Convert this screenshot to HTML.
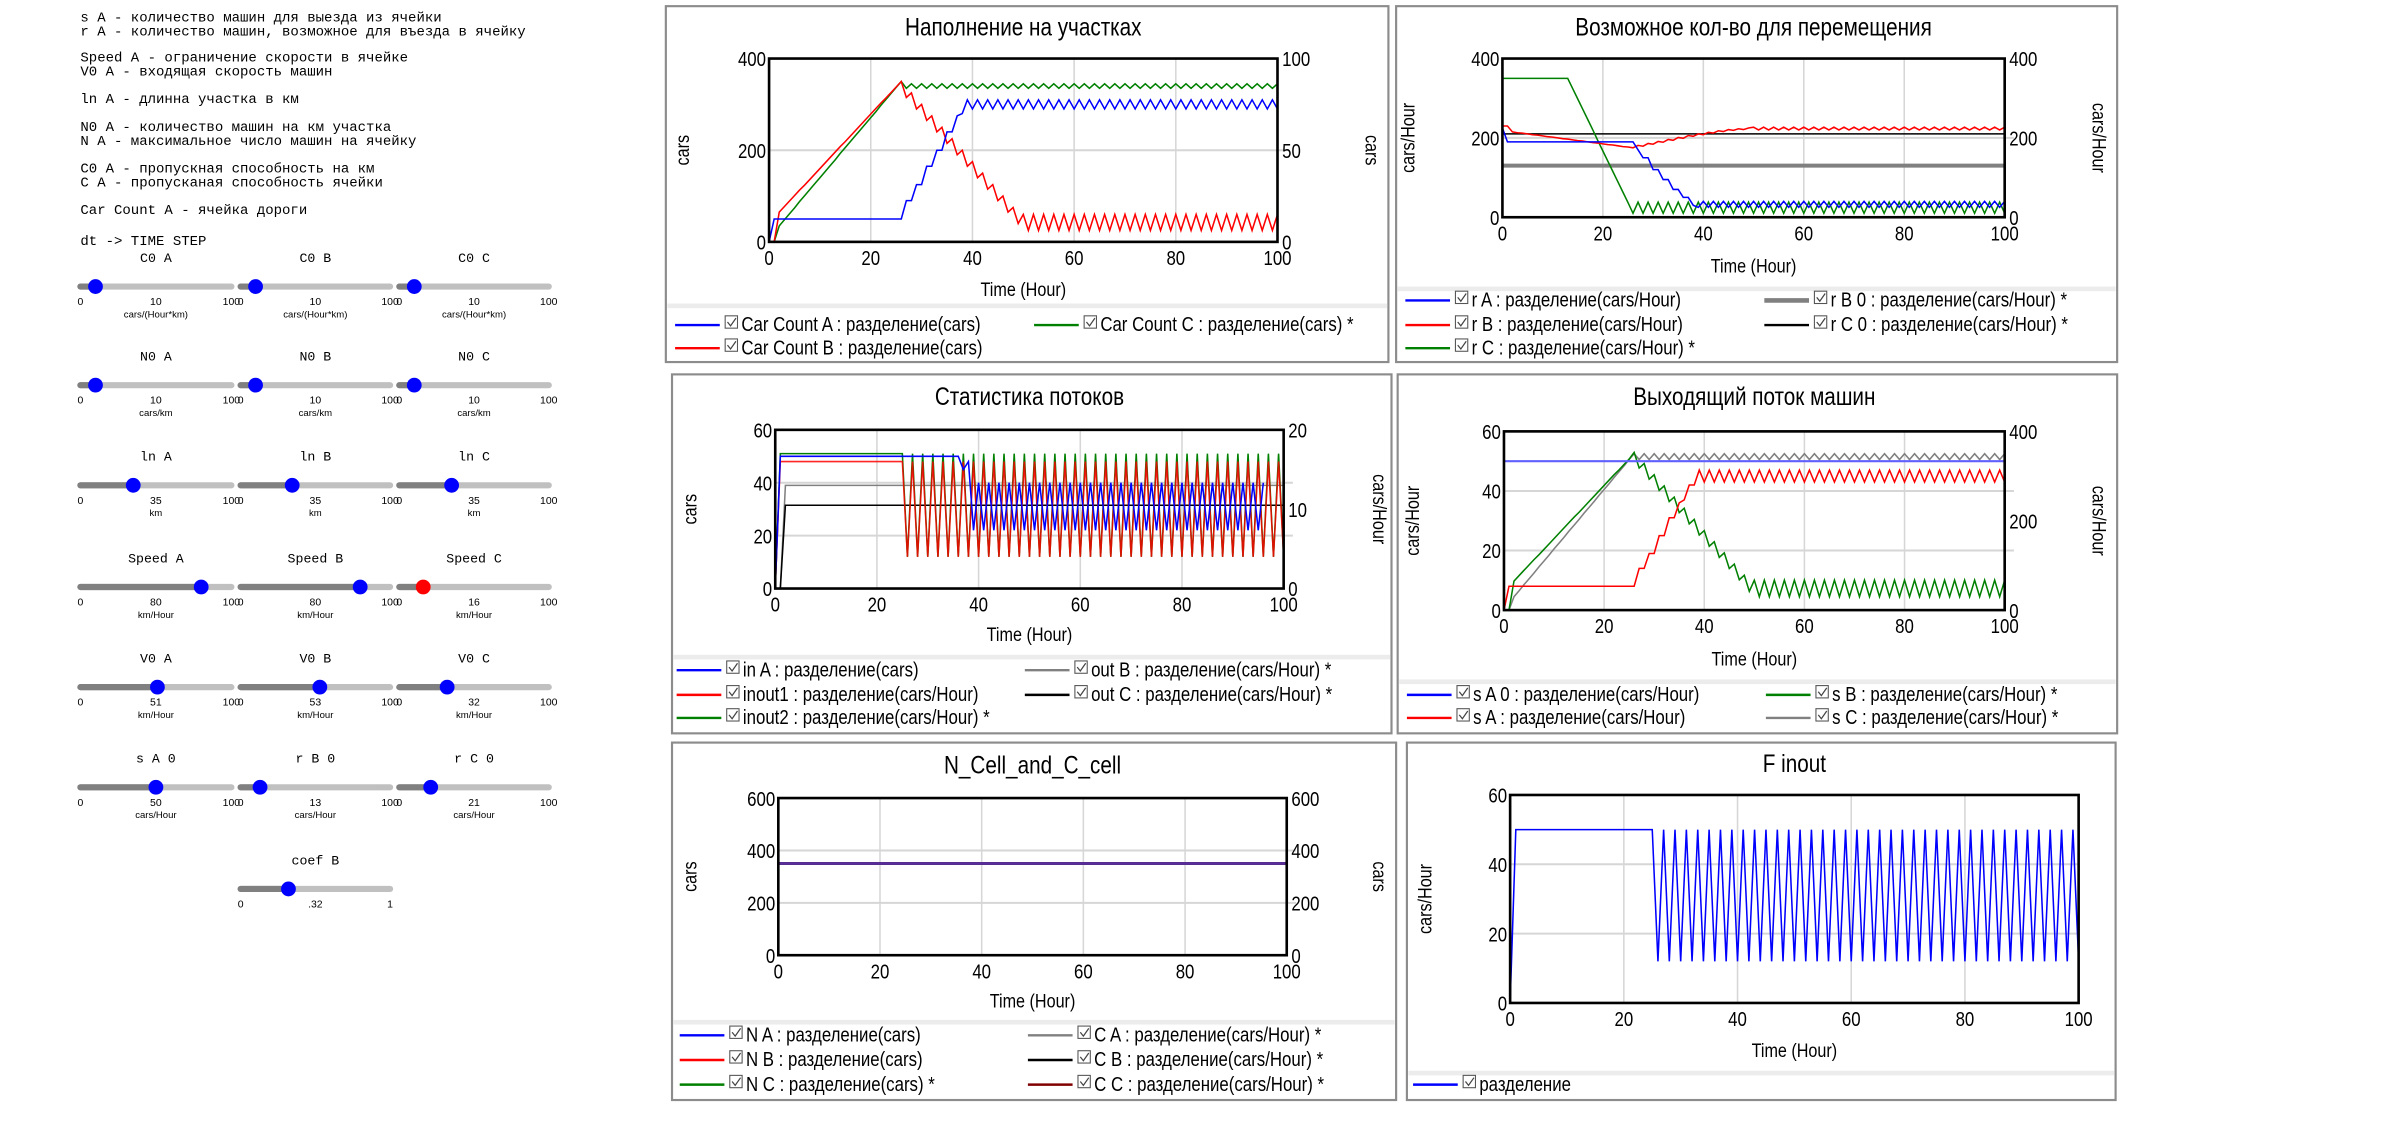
<!DOCTYPE html>
<html><head><meta charset="utf-8">
<style>
html,body{margin:0;padding:0;background:#fff;}
svg{display:block;}
text{font-family:"Liberation Sans",sans-serif;}
.mono{font-family:"Liberation Mono",monospace;}
</style></head>
<body>
<svg id="root" xmlns="http://www.w3.org/2000/svg" width="2404" height="1137" viewBox="0 0 1560 738">
<rect x="0" y="0" width="1560" height="738" fill="#fff"/>
<g class="mono" font-size="9.1" fill="#000">
<text class="mono" x="52" y="14">s A - количество машин для выезда из ячейки</text>
<text class="mono" x="52" y="23">r A - количество машин, возможное для въезда в ячейку</text>
<text class="mono" x="52" y="40">Speed A - ограничение скорости в ячейке</text>
<text class="mono" x="52" y="49">V0 A - входящая скорость машин</text>
<text class="mono" x="52" y="67">ln A - длинна участка в км</text>
<text class="mono" x="52" y="85">N0 A - количество машин на км участка</text>
<text class="mono" x="52" y="94">N A - максимальное число машин на ячейку</text>
<text class="mono" x="52" y="112">C0 A - пропускная способность на км</text>
<text class="mono" x="52" y="121">C A - пропусканая способность ячейки</text>
<text class="mono" x="52" y="139">Car Count A - ячейка дороги</text>
<text class="mono" x="52" y="159">dt -&gt; TIME STEP</text>
</g>
<g id="sliders"></g>
<g id="charts"></g>
</svg>
<script>
// ---------- data ----------
const hours = Array.from({length:101},(_,i)=>i);
const ends = [0,100];

// Chart 1: Наполнение на участках
const carCountA = [0,
50,50,50,50,50,50,50,50,50,50,50,50,50,50,50,50,50,50,50,50,50,50,50,50,50,50,
90,90,125,125,165,165,200,200,240,240,275,280,310,
290,310,290,310,290,310,290,310,290,310,290,310,290,310,290,310,290,310,290,310,
290,310,290,310,290,310,290,310,290,310,290,310,290,310,290,310,290,310,290,310,
290,310,290,310,290,310,290,310,290,310,290,310,290,310,290,310,290,310,290,310,290];
const carCountB = [0,0,65,77,89,101,113,124,136,148,160,172,184,196,208,219,231,243,255,267,279,291,303,314,326,338,350,
315,325,290,300,265,275,240,250,215,225,190,200,165,175,140,150,115,125,90,100,65,75,40,
60,25,60,25,60,25,60,25,60,25,60,25,60,25,60,25,60,25,60,25,60,25,60,25,60,25,
60,25,60,25,60,25,60,25,60,25,60,25,60,25,60,25,60,25,60,25,60,25,60,25,60];
const carCountC = [0,0,35,48,61,74,88,101,114,127,140,153,166,179,193,206,219,232,245,258,271,284,298,311,324,337,350,
335,345,335,345,335,345,335,345,335,345,335,345,335,345,335,345,335,345,335,345,335,345,335,345,335,345,335,345,335,345,335,345,335,345,335,345,335,345,335,345,335,345,
335,345,335,345,335,345,335,345,335,345,335,345,335,345,335,345,335,345,335,345,335,345,335,345,335,345,335,345,335,345,335,345,335,345,335,345,335,345,335,345,335,345];

// Chart 2: Возможное кол-во для перемещения
const rA = [225,
190,190,190,190,190,190,190,190,190,190,190,190,190,190,190,190,190,190,190,190,190,190,190,190,190,190,
170,150,150,120,120,95,95,70,70,50,50,30,25,
40,25,40,25,40,25,40,25,40,25,40,25,40,25,40,25,40,25,40,25,
40,25,40,25,40,25,40,25,40,25,40,25,40,25,40,25,40,25,40,25,
40,25,40,25,40,25,40,25,40,25,40,25,40,25,40,25,40,25,40,25,40];
const rB = [230,230,215,213,212,210,208,207,205,203,202,200,198,197,195,193,192,190,188,187,185,183,182,180,178,177,175,
181,179,186,184,191,189,196,194,201,199,206,204,210,208,214,212,218,216,221,219,223,221,225,
227,220,227,220,227,220,227,220,227,220,227,220,227,220,227,220,227,220,227,220,227,220,227,220,227,220,
227,220,227,220,227,220,227,220,227,220,227,220,227,220,227,220,227,220,227,220,227,220,227,220,227];
const rC = [350,350,350,350,350,350,350,350,350,350,350,350,350,350,
324,298,272,246,220,193,167,141,115,89,63,37,10,
38,10,38,10,38,10,38,10,38,10,38,10,38,10,38,10,38,10,38,10,38,10,38,10,38,10,38,10,38,10,38,10,38,10,38,10,38,10,38,10,38,10,
38,10,38,10,38,10,38,10,38,10,38,10,38,10,38,10,38,10,38,10,38,10,38,10,38,10,38,10,38,10,38,10,38,10,38,10,38,10,38,10,38,10];
const rB0 = [130,130];
const rC0 = [210,210];

// Chart 3: Статистика потоков
const inA = [0,
50,50,50,50,50,50,50,50,50,50,50,50,50,50,50,50,50,50,50,50,50,50,50,50,50,50,50,50,50,50,50,50,50,50,50,50,
45,48,
22,40,22,40,22,40,22,40,22,40,22,40,22,40,22,40,22,40,22,40,22,40,22,40,22,40,22,40,
22,40,22,40,22,40,22,40,22,40,22,40,22,40,22,40,22,40,22,40,22,40,22,40,22,40,22,40,22,40];
const inout1 = [0,
16,16,16,16,16,16,16,16,16,16,16,16,16,16,16,16,16,16,16,16,16,16,16,16,16,
4,16,4,16,4,16,4,16,4,16,4,16,4,16,4,16,4,16,4,16,4,16,4,16,4,16,4,16,4,16,4,16,4,16,4,16,4,16,4,16,4,16,4,16,4,16,4,16,
4,16,4,16,4,16,4,16,4,16,4,16,4,16,4,16,4,16,4,16,4,16,4,16,4,16,4,16,4,16,4,16,4,16,4,16,4,16,4,16,4,16,4,16,4];
const inout2 = [0,
17,17,17,17,17,17,17,17,17,17,17,17,17,17,17,17,17,17,17,17,17,17,17,17,17,
4,17,4,17,4,17,4,17,4,17,4,17,4,17,4,17,4,17,4,17,4,17,4,17,4,17,4,17,4,17,4,17,4,17,4,17,4,17,4,17,4,17,4,17,4,17,4,17,
4,17,4,17,4,17,4,17,4,17,4,17,4,17,4,17,4,17,4,17,4,17,4,17,4,17,4,17,4,17,4,17,4,17,4,17,4,17,4,17,4,17,4,17,4];
const stepHours = [0,1,2,100];
const outB = [0,0,13,13];
const outC = [0,0,10.5,10.5];

// Chart 4: Выходящий поток машин
const sA0 = [50,50];
const sA = [0,
8,8,8,8,8,8,8,8,8,8,8,8,8,8,8,8,8,8,8,8,8,8,8,8,8,8,
14,14,19,19,25,25,31,31,36,37,42,42,47,
43,47,43,47,43,47,43,47,43,47,43,47,43,47,43,47,43,47,43,47,
43,47,43,47,43,47,43,47,43,47,43,47,43,47,43,47,43,47,43,47,
43,47,43,47,43,47,43,47,43,47,43,47,43,47,43,47,43,47,43,47,43];
const sB = [0,0,65,77,89,101,113,124,136,148,160,172,184,196,208,219,231,243,255,267,279,291,303,314,326,338,353,
318,328,293,303,268,278,243,253,218,228,193,203,168,178,143,153,118,128,93,103,68,78,42,
67,30,67,30,67,30,67,30,67,30,67,30,67,30,67,30,67,30,67,30,67,30,67,30,67,30,
67,30,67,30,67,30,67,30,67,30,67,30,67,30,67,30,67,30,67,30,67,30,67,30,67];
const sC = [0,0,30,43,57,70,83,97,110,123,137,150,163,177,190,203,217,230,243,257,270,283,297,310,323,337,350,
337,350,337,350,337,350,337,350,337,350,337,350,337,350,337,350,337,350,337,350,337,350,337,350,337,350,337,350,337,350,337,350,337,350,337,350,337,350,337,350,337,350,
337,350,337,350,337,350,337,350,337,350,337,350,337,350,337,350,337,350,337,350,337,350,337,350,337,350,337,350,337,350,337,350,337,350,337,350,337,350,337,350,337,350];

// Chart 5: N_Cell_and_C_cell
const nA = [350,350], nB = [350,350], nC = [350,350];
const cA = [350,350], cB = [350,350], cC = [350,350];

// Chart 6: F inout
const fInout = [0,
50,50,50,50,50,50,50,50,50,50,50,50,50,50,50,50,50,50,50,50,50,50,50,50,50,
12,50,12,50,12,50,12,50,12,50,12,50,12,50,12,50,12,50,12,50,12,50,12,50,12,50,12,50,12,50,12,50,12,50,12,50,12,50,12,50,12,50,12,50,12,50,12,50,
12,50,12,50,12,50,12,50,12,50,12,50,12,50,12,50,12,50,12,50,12,50,12,50,12,50,12,50,12,50,12,50,12,50,12,50,12,50,12,50,12,50,12,50,12];

const xTicks = [0,20,40,60,80,100];

// slider values
const sliderNames = ['C0  A','C0  B','C0  C','N0  A','N0  B','N0  C','ln  A','ln  B','ln  C','Speed  A','Speed  B','Speed  C','V0  A','V0  B','V0  C','s  A  0','r  B  0','r  C  0'];
const sliderValues = ['10','10','10','10','10','10','35','35','35','80','80','16','51','53','32','50','13','21'];
const sliderFractions = [0.10,0.10,0.10,0.10,0.10,0.10,0.35,0.345,0.35,0.80,0.80,0.16,0.51,0.53,0.32,0.50,0.13,0.21];
const sliderUnits = ['cars/(Hour*km)','cars/(Hour*km)','cars/(Hour*km)','cars/km','cars/km','cars/km','km','km','km','km/Hour','km/Hour','km/Hour','km/Hour','km/Hour','km/Hour','cars/Hour','cars/Hour','cars/Hour'];

// ---------- helpers ----------
const NS = 'http://www.w3.org/2000/svg';
const SX = 0.84;
function mk(tag, attrs, parent){
  const e = document.createElementNS(NS, tag);
  for (const k in attrs) e.setAttribute(k, attrs[k]);
  if (parent) parent.appendChild(e);
  return e;
}
function txt(parent, x, y, s, size, anchor, extra){
  const t = mk('text', Object.assign({x:x, y:y, 'font-size':size, 'text-anchor':anchor||'start', fill:'#000'}, extra||{}), parent);
  t.textContent = s;
  return t;
}
// condensed text (chart fonts are narrow)
function ntxt(parent, x, y, s, size, anchor, rot){
  const tr = `translate(${x},${y})` + (rot ? ` rotate(${rot})` : '') + ` scale(${SX},1)`;
  const t = mk('text', {x:0, y:0, 'font-size':size, 'text-anchor':anchor||'start', fill:'#000', transform:tr}, parent);
  t.textContent = s;
  return t;
}

// ---------- sliders ----------
const sg = document.getElementById('sliders');
const cols = [[52,150],[156,253],[259,356]];
const rowY = [170,234,299,365,430,495];
function drawSlider(name, val, frac, unit, x0, x1, y, lo, hi, red){
  const g = mk('g', {}, sg);
  
  
  const cx = (x0+x1)/2;
  const lab = txt(g, cx, y, name, 8.6, 'middle', {class:'mono'});
  
  
  const ty = y + 16;
  mk('line', {x1:x0, y1:ty, x2:x1, y2:ty, stroke:'#c0c0c0', 'stroke-width':4, 'stroke-linecap':'round'}, g);
  const kx = x0 + (x1-x0)*frac;
  mk('line', {x1:x0, y1:ty, x2:kx, y2:ty, stroke:'#808080', 'stroke-width':4, 'stroke-linecap':'round'}, g);
  const knob = mk('circle', {cx:kx, cy:ty, r:4.8, fill: red ? '#ff0000' : '#0000ff'}, g);
  
  
  txt(g, x0, ty+12, lo, 6.8, 'middle');
  txt(g, x1, ty+12, hi, 6.8, 'middle');
  txt(g, cx, ty+12, val, 6.8, 'middle');
  if (unit) txt(g, cx, ty+20, unit, 6.2, 'middle');
}
for (let i = 0; i < sliderNames.length; i++){
  const c = cols[i%3], r = rowY[Math.floor(i/3)];
  drawSlider(sliderNames[i], sliderValues[i], sliderFractions[i], sliderUnits[i], c[0], c[1], r, '0', '100', i===11);
}
drawSlider('coef  B', '.32', 0.32, '', 156, 253, 561, '0', '1', false);

// ---------- charts ----------
const cg = document.getElementById('charts');
function drawChart(c){
  const g = mk('g', {}, cg);
  
  
  mk('rect', {x:c.box[0], y:c.box[1], width:c.box[2]-c.box[0], height:c.box[3]-c.box[1], fill:'#fff', stroke:'#8c8c8c', 'stroke-width':1.4}, g);
  const t = ntxt(g, (c.plot[0]+c.plot[2])/2, c.titleY, c.title, 16, 'middle');
  
  
  const [L,T,R,B] = c.plot;
  const sx = v => L + (v-0)/(100-0)*(R-L);
  const syL = v => B - (v-c.left[0])/(c.left[1]-c.left[0])*(B-T);
  const syR = c.right ? (v => B - (v-c.right[0])/(c.right[1]-c.right[0])*(B-T)) : syL;
  xTicks.slice(1,-1).forEach(v => mk('line', {x1:sx(v), y1:T, x2:sx(v), y2:B, stroke:'#d6d6d6', 'stroke-width':1}, g));
  c.leftTicks.slice(1,-1).forEach(v => mk('line', {x1:L, y1:syL(v), x2:R+ (c.right?6:0), y2:syL(v), stroke:'#d6d6d6', 'stroke-width':1.3}, g));
  c.series.forEach(s => {
    const sy = s.axis === 'R' ? syR : syL;
    const pts = s.xs.map((x,i) => sx(x).toFixed(2) + ',' + sy(s.ys[i]).toFixed(2)).join(' ');
    const pl = mk('polyline', {points:pts, fill:'none', stroke:s.color, 'stroke-width':s.w||1, 'stroke-linejoin':'miter', opacity:s.op||1}, g);
    
    
  });
  mk('rect', {x:L, y:T, width:R-L, height:B-T, fill:'none', stroke:'#000', 'stroke-width':1.7}, g);
  xTicks.forEach(v => ntxt(g, sx(v), B+15, String(v), 13, 'middle'));
  c.leftTicks.forEach(v => ntxt(g, L-2, syL(v)+5, String(v), 13, 'end'));
  if (c.right) c.rightTicks.forEach(v => ntxt(g, R+3, syR(v)+5, String(v), 13, 'start'));
  const xl = ntxt(g, (L+R)/2, c.xTitleY, 'Time (Hour)', 12.5, 'middle');
  
  
  const yl = ntxt(g, c.leftTitleX, (T+B)/2, c.leftTitle, 12.5, 'middle', -90);
  
  
  if (c.right){
    const yr = ntxt(g, c.rightTitleX, (T+B)/2, c.rightTitle, 12.5, 'middle', 90);
    
    
  }
  mk('rect', {x:c.box[0]+1, y:c.legendSep, width:c.box[2]-c.box[0]-2, height:3, fill:'#ececec'}, g);
  c.legend.forEach(l => {
    const lg = mk('g', {}, g);
    
    
    mk('line', {x1:l.x, y1:l.y-4, x2:l.x+29, y2:l.y-4, stroke:l.color, 'stroke-width':l.w||1.6}, lg);
    mk('rect', {x:l.x+32.5, y:l.y-10, width:8, height:8, fill:'#fff', stroke:'#555', 'stroke-width':0.7}, lg);
    mk('path', {d:`M${l.x+34} ${l.y-6} l2 2.5 l3.5 -5`, fill:'none', stroke:'#444', 'stroke-width':0.8}, lg);
    ntxt(lg, l.x+43, l.y, l.text, 13, 'start');
  });
}

const C = (x,y,text,color,w) => ({x,y,text,color,w});

drawChart({name:'chart-filling', title:'Наполнение на участках', box:[432,4,901,235], plot:[499,38,829,157], titleY:23,
  left:[0,400], right:[0,100], leftTicks:[0,200,400], rightTicks:[0,50,100], xTitleY:192, leftTitle:'cars', leftTitleX:447, rightTitle:'cars', rightTitleX:886,
  legendSep:197,
  series:[
    {id:'car-count-c', xs:hours, ys:carCountC, color:'#008000'},
    {id:'car-count-b', xs:hours, ys:carCountB, color:'#ff0000'},
    {id:'car-count-a', xs:hours, ys:carCountA, color:'#0000ff'}],
  legend:[C(438,215,'Car Count A : разделение(cars)','#0000ff'), C(671,215,'Car Count C : разделение(cars) *','#008000'), C(438,230,'Car Count B : разделение(cars)','#ff0000')]});

drawChart({name:'chart-possible-moves', title:'Возможное кол-во для перемещения', box:[906,4,1374,235], plot:[975,38,1301,141], titleY:23,
  left:[0,400], right:[0,400], leftTicks:[0,200,400], rightTicks:[0,200,400], xTitleY:177, leftTitle:'cars/Hour', leftTitleX:918, rightTitle:'cars/Hour', rightTitleX:1358,
  legendSep:186,
  series:[
    {id:'r-b-0', xs:ends, ys:rB0, color:'#808080', w:2.6, axis:'R'},
    {id:'r-c-0', xs:ends, ys:rC0, color:'#000000', w:1, axis:'R'},
    {id:'r-c', xs:hours, ys:rC, color:'#008000', axis:'R'},
    {id:'r-b', xs:hours, ys:rB, color:'#ff0000'},
    {id:'r-a', xs:hours, ys:rA, color:'#0000ff'}],
  legend:[C(912,199,'r A : разделение(cars/Hour)','#0000ff'), C(1145,199,'r B 0 : разделение(cars/Hour) *','#808080',3),
          C(912,215,'r B : разделение(cars/Hour)','#ff0000'), C(1145,215,'r C 0 : разделение(cars/Hour) *','#000000'),
          C(912,230,'r C : разделение(cars/Hour) *','#008000')]});

drawChart({name:'chart-flow-stats', title:'Статистика потоков', box:[436,243,903,476], plot:[503,279,833,382], titleY:263,
  left:[0,60], right:[0,20], leftTicks:[0,20,40,60], rightTicks:[0,10,20], xTitleY:416, leftTitle:'cars', leftTitleX:452, rightTitle:'cars/Hour', rightTitleX:891,
  legendSep:425,
  series:[
    {id:'out-b', xs:stepHours, ys:outB, color:'#808080', axis:'R'},
    {id:'out-c', xs:stepHours, ys:outC, color:'#000000', axis:'R'},
    {id:'inout2', xs:hours, ys:inout2, color:'#008000', axis:'R'},
    {id:'inout1', xs:hours, ys:inout1, color:'#ff0000', axis:'R', op:0.85},
    {id:'in-a', xs:hours, ys:inA, color:'#0000ff'}],
  legend:[C(439,439,'in A : разделение(cars)','#0000ff'), C(665,439,'out B : разделение(cars/Hour) *','#808080'),
          C(439,455,'inout1 : разделение(cars/Hour)','#ff0000'), C(665,455,'out C : разделение(cars/Hour) *','#000000'),
          C(439,470,'inout2 : разделение(cars/Hour) *','#008000')]});

drawChart({name:'chart-outflow', title:'Выходящий поток машин', box:[907,243,1374,476], plot:[976,280,1301,396], titleY:263,
  left:[0,60], right:[0,400], leftTicks:[0,20,40,60], rightTicks:[0,200,400], xTitleY:432, leftTitle:'cars/Hour', leftTitleX:921, rightTitle:'cars/Hour', rightTitleX:1358,
  legendSep:441,
  series:[
    {id:'s-c', xs:hours, ys:sC, color:'#808080', axis:'R'},
    {id:'s-b', xs:hours, ys:sB, color:'#008000', axis:'R'},
    {id:'s-a', xs:hours, ys:sA, color:'#ff0000'},
    {id:'s-a-0', xs:ends, ys:sA0, color:'#6060ff', w:1.4}],
  legend:[C(913,455,'s A 0 : разделение(cars/Hour)','#0000ff'), C(1146,455,'s B : разделение(cars/Hour) *','#008000'),
          C(913,470,'s A : разделение(cars/Hour)','#ff0000'), C(1146,470,'s C : разделение(cars/Hour) *','#808080')]});

drawChart({name:'chart-n-c-cell', title:'N_Cell_and_C_cell', box:[436,482,906,714], plot:[505,518,835,620], titleY:502,
  left:[0,600], right:[0,600], leftTicks:[0,200,400,600], rightTicks:[0,200,400,600], xTitleY:654, leftTitle:'cars', leftTitleX:452, rightTitle:'cars', rightTitleX:891,
  legendSep:662,
  series:[
    {id:'n-a', xs:ends, ys:nA, color:'#0000ff', w:1.6},
    {id:'n-b', xs:ends, ys:nB, color:'#ff0000', w:1.6},
    {id:'n-c', xs:ends, ys:nC, color:'#008000', w:1.6, axis:'R'},
    {id:'c-a', xs:ends, ys:cA, color:'#808080', w:1.6, axis:'R'},
    {id:'c-b', xs:ends, ys:cB, color:'#000000', w:1.6, axis:'R'},
    {id:'c-c', xs:ends, ys:cC, color:'#5a2d9c', w:1.8, axis:'R'}],
  legend:[C(441,676,'N A : разделение(cars)','#0000ff'), C(667,676,'C A : разделение(cars/Hour) *','#808080'),
          C(441,692,'N B : разделение(cars)','#ff0000'), C(667,692,'C B : разделение(cars/Hour) *','#000000'),
          C(441,708,'N C : разделение(cars) *','#008000'), C(667,708,'C C : разделение(cars/Hour) *','#800000')]});

drawChart({name:'chart-f-inout', title:'F inout', box:[913,482,1373,714], plot:[980,516,1349,651], titleY:501,
  left:[0,60], right:null, leftTicks:[0,20,40,60], rightTicks:[], xTitleY:686, leftTitle:'cars/Hour', leftTitleX:929,
  legendSep:695,
  series:[{id:'f-inout', xs:hours, ys:fInout, color:'#0000ff'}],
  legend:[C(917,708,'разделение','#0000ff')]});
</script>
</body></html>
